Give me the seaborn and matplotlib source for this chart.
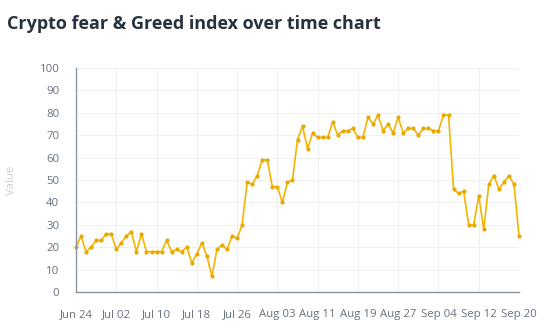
import matplotlib
matplotlib.use("Agg")
import matplotlib.pyplot as plt
import pandas as pd
import seaborn as sns

# ---- data ----
title = "Crypto fear & Greed index over time chart"
y_label = "Value"
start_date = "2021-06-24"
values = [20, 25, 18, 20, 23, 23, 26, 26, 19, 22, 25, 27, 18, 26, 18, 18,
          18, 18, 23, 18, 19, 18, 20, 13, 17, 22, 16, 7, 19, 21, 19, 25,
          24, 30, 49, 48, 52, 59, 59, 47, 47, 40, 49, 50, 68, 74, 64, 71,
          69, 69, 69, 76, 70, 72, 72, 73, 69, 69, 78, 75, 79, 72, 75, 71,
          78, 71, 73, 73, 70, 73, 73, 72, 72, 79, 79, 46, 44, 45, 30, 30,
          43, 28, 48, 52, 46, 49, 52, 48, 25]
tick_labels = ["Jun 24", "Jul 02", "Jul 10", "Jul 18", "Jul 26", "Aug 03",
               "Aug 11", "Aug 19", "Aug 27", "Sep 04", "Sep 12", "Sep 20"]
y_ticks = [0, 10, 20, 30, 40, 50, 60, 70, 80, 90, 100]

dates = pd.date_range(start_date, periods=len(values), freq="D")
df = pd.DataFrame({"date": dates, "value": values})
tick_dates = dates[::8]

# ---- style ----
sns.set_style("white")
plt.rcParams["font.family"] = ["Open Sans", "DejaVu Sans"]

line_color = "#F4B400"
axis_color = "#8b96a2"
tick_color = "#66717d"
grid_color = "#eef0f2"

fig = plt.figure(figsize=(5.57, 3.34), dpi=100)
ax = fig.add_axes([76 / 557, 42 / 334, 443 / 557, 224 / 334])

sns.lineplot(data=df, x="date", y="value", ax=ax, color=line_color,
             linewidth=1.2, marker="o", markersize=3.0,
             markeredgewidth=0, markerfacecolor="#E8A800")
for ln in ax.lines:
    ln.set_clip_on(False)

ax.set_xlim(dates[0], dates[-1])
ax.set_ylim(0, 100)
ax.set_yticks(y_ticks)
ax.set_yticklabels([str(v) for v in y_ticks])
ax.set_xticks(tick_dates)
ax.set_xticklabels(tick_labels)

ax.set_xlabel("")
ax.set_ylabel("")
ax.grid(True, color=grid_color, linewidth=0.8)
ax.set_axisbelow(True)

for side in ["top", "right"]:
    ax.spines[side].set_visible(False)
for side in ["left", "bottom"]:
    ax.spines[side].set_color(axis_color)
    ax.spines[side].set_linewidth(1.0)

ax.tick_params(axis="both", which="major", length=4, width=1,
               color=axis_color, labelcolor=tick_color, labelsize=8.2)
ax.tick_params(axis="x", pad=8)
ax.tick_params(axis="y", pad=8)

fig.text(7 / 557, 1 - 24 / 334, title, fontsize=13, fontweight="bold",
         color="#27323c", ha="left", va="center")
fig.text(12 / 557, 1 - 180 / 334, y_label, rotation=90, fontsize=8.2,
         color="#c9ced4", ha="center", va="center")

fig.savefig("out.png", dpi=100)
